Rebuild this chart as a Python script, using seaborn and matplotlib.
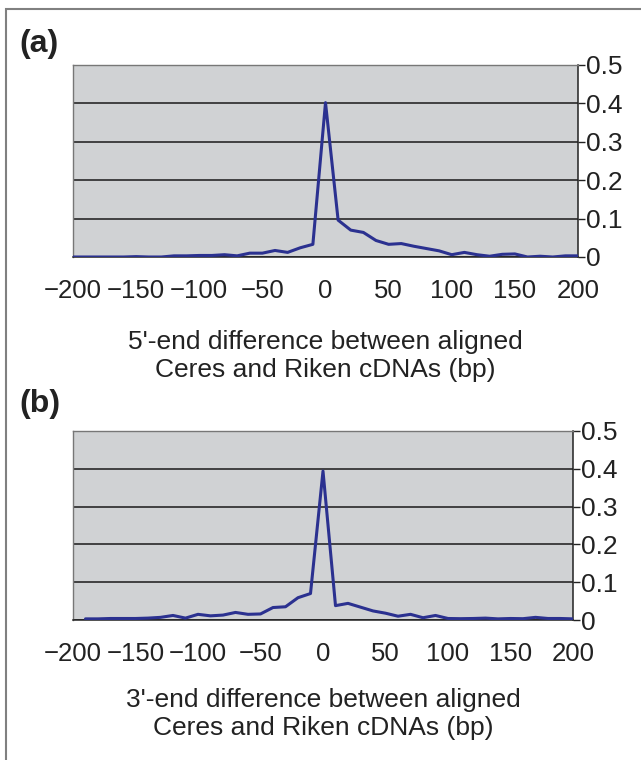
import pandas as pd
import numpy as np
import matplotlib.pyplot as plt
import matplotlib.patches as patches
import seaborn as sns

# data
x_a = [-200, -190, -180, -170, -160, -150, -140, -130, -120, -110, -100,
       -90, -80, -70, -60, -50, -40, -30, -20, -10, 0,
       10, 20, 30, 40, 50, 60, 70, 80, 90, 100,
       110, 120, 130, 140, 150, 160, 170, 180, 190, 200]
y_a = [0.0, 0.0, 0.0, 0.0, 0.0, 0.001, 0.0, 0.0, 0.003, 0.003, 0.004,
       0.004, 0.006, 0.003, 0.010, 0.010, 0.017, 0.012, 0.024, 0.033, 0.402,
       0.096, 0.070, 0.064, 0.043, 0.033, 0.035, 0.028, 0.022, 0.016, 0.006,
       0.012, 0.006, 0.002, 0.007, 0.008, 0.0, 0.002, 0.0, 0.003, 0.003]

x_b = [-190, -180, -170, -160, -150, -140, -130, -120, -110, -100,
       -90, -80, -70, -60, -50, -40, -30, -20, -10, 0,
       10, 20, 30, 40, 50, 60, 70, 80, 90, 100,
       110, 120, 130, 140, 150, 160, 170, 180, 190, 200]
y_b = [0.003, 0.003, 0.004, 0.004, 0.004, 0.005, 0.007, 0.012, 0.005, 0.015,
       0.011, 0.013, 0.020, 0.015, 0.016, 0.033, 0.035, 0.059, 0.070, 0.394,
       0.038, 0.044, 0.034, 0.024, 0.018, 0.010, 0.015, 0.006, 0.012, 0.004,
       0.0035, 0.004, 0.005, 0.003, 0.004, 0.0035, 0.007, 0.004, 0.004, 0.003]

x_ticks = [-200, -150, -100, -50, 0, 50, 100, 150, 200]
y_ticks = [0, 0.1, 0.2, 0.3, 0.4, 0.5]

labels_a = "5'-end difference between aligned\nCeres and Riken cDNAs (bp)"
labels_b = "3'-end difference between aligned\nCeres and Riken cDNAs (bp)"

sns.set_style("white")
plt.rcParams['font.family'] = ['Liberation Sans', 'DejaVu Sans']

W, H = 641, 760
fig = plt.figure(figsize=(W / 100, H / 100), dpi=100)

# outer frame (cut off at right and bottom)
fig.patches.append(patches.Rectangle((6 / W, -0.05), 1.1, 1 - 9 / H + 0.05,
                                     transform=fig.transFigure, fill=False,
                                     edgecolor='#808080', linewidth=1.5))


def panel(rect, xs, ys, xlabel, tag, tag_y, lpad):
    ax = fig.add_axes(rect)
    ax.set_facecolor('#d0d2d4')
    df = pd.DataFrame({'x': xs, 'y': ys})
    sns.lineplot(data=df, x='x', y='y', ax=ax, color='#2b3190',
                 linewidth=2.2, zorder=3)
    ax.set_xlim(-200, 200)
    ax.set_ylim(0, 0.5)
    ax.set_xticks(x_ticks)
    ax.set_xticklabels([str(t).replace('-', '\u2212') for t in x_ticks])
    ax.set_yticks(y_ticks)
    ax.set_yticklabels(['0', '0.1', '0.2', '0.3', '0.4', '0.5'])
    ax.yaxis.tick_right()
    ax.grid(axis='y', color='#1a1a1a', linewidth=1.1)
    ax.set_axisbelow(True)
    ax.tick_params(axis='x', direction='out', length=7.5, width=1,
                   color='#222222', labelsize=18.5, pad=8, labelcolor='#222222')
    ax.tick_params(axis='y', direction='out', length=5, width=1,
                   color='#222222', labelsize=19, pad=1,
                   right=True, left=False, labelcolor='#222222')
    for s in ['left', 'top']:
        ax.spines[s].set_color('#777777')
        ax.spines[s].set_linewidth(1)
    for s in ['right', 'bottom']:
        ax.spines[s].set_color('#222222')
        ax.spines[s].set_linewidth(1.1)
    ax.set_xlabel(xlabel, fontsize=19, linespacing=1.2, color='#222222',
                  labelpad=lpad)
    ax.set_ylabel('')
    fig.text(19 / W, 1 - tag_y / H, tag, fontsize=23, fontweight='bold',
             va='center', ha='left', color='#222222')
    return ax


panel([73 / W, 1 - 257 / H, 505 / W, 192 / H], x_a, y_a, labels_a, '(a)', 44, 20)
panel([73 / W, 1 - 620 / H, 500 / W, 189 / H], x_b, y_b, labels_b, '(b)', 404, 16)

fig.savefig('out.png', dpi=100)
